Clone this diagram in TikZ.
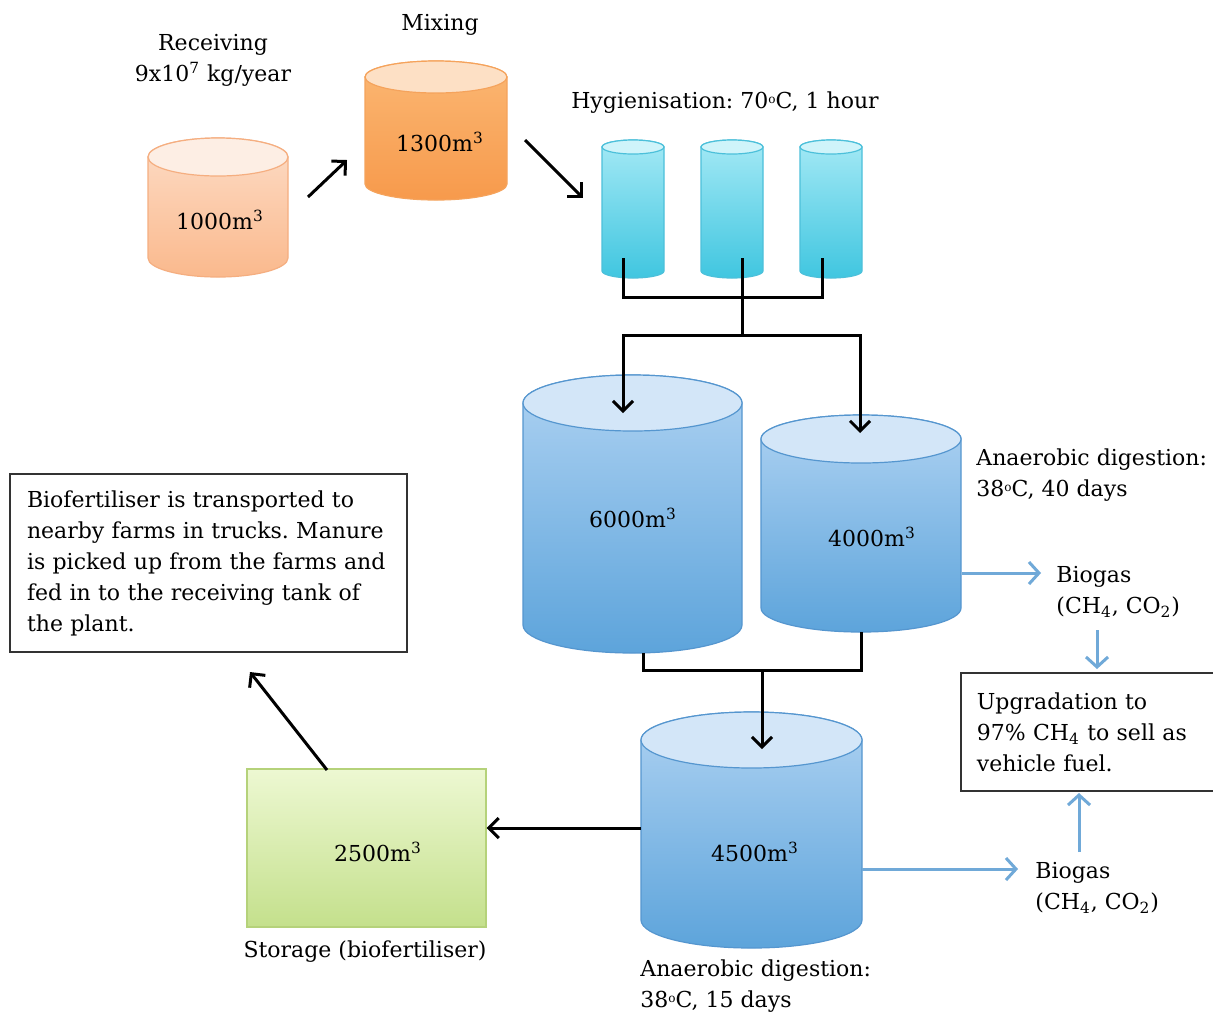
\documentclass[tikz,border=0pt]{standalone}
\usepackage{fontspec}
\setmainfont{DejaVu Serif}
\usetikzlibrary{arrows.meta}
\frenchspacing
\definecolor{recvL}{HTML}{FDEEE4}
\definecolor{recvT}{HTML}{FDDCC6}
\definecolor{recvB}{HTML}{FAB98D}
\definecolor{recvE}{HTML}{F5AE80}
\definecolor{mixL}{HTML}{FDE0C5}
\definecolor{mixT}{HTML}{FBB773}
\definecolor{mixB}{HTML}{F79A4C}
\definecolor{mixE}{HTML}{F5A35C}
\definecolor{hygL}{HTML}{CFF4FA}
\definecolor{hygT}{HTML}{A4E9F5}
\definecolor{hygB}{HTML}{40C6E0}
\definecolor{hygE}{HTML}{4CC0DA}
\definecolor{blueL}{HTML}{D3E6F8}
\definecolor{blueT}{HTML}{AED2F2}
\definecolor{blueB}{HTML}{5DA4DB}
\definecolor{blueE}{HTML}{5596CF}
\definecolor{grT}{HTML}{EDF8D2}
\definecolor{grB}{HTML}{C4E08C}
\definecolor{grE}{HTML}{B5D27A}
\definecolor{gasblue}{HTML}{70A9D8}
\newcommand\drawtank[6]{%
  \path[#6body] ({#1-#4},#2) -- ({#1-#4},#3)
    arc[start angle=180,end angle=360,x radius={#4*0.5pt},y radius={#5*0.5pt}]
    -- ({#1+#4},#2)
    arc[start angle=0,end angle=180,x radius={#4*0.5pt},y radius={#5*0.5pt}] -- cycle;
  \path[#6lid] (#1,#2) ellipse[x radius={#4*0.5pt},y radius={#5*0.5pt}];
}
\newcommand\degsign{\raisebox{0.45ex}{\fontsize{6}{6}\selectfont o}}
\begin{document}
\begin{tikzpicture}[x=0.5pt,y=-0.5pt,
  every node/.style={font=\fontsize{11}{15.5}\selectfont, inner sep=0pt},
  recvbody/.style={top color=recvT, bottom color=recvB, draw=recvE, line width=0.6pt},
  recvlid/.style={fill=recvL, draw=recvE, line width=0.6pt},
  mixbody/.style={top color=mixT, bottom color=mixB, draw=mixE, line width=0.6pt},
  mixlid/.style={fill=mixL, draw=mixE, line width=0.6pt},
  hygbody/.style={top color=hygT, bottom color=hygB, draw=hygE, line width=0.6pt},
  hyglid/.style={fill=hygL, draw=hygE, line width=0.6pt},
  bluebody/.style={top color=blueT, bottom color=blueB, draw=blueE, line width=0.6pt},
  bluelid/.style={fill=blueL, draw=blueE, line width=0.6pt},
  pipe/.style={line width=1.5pt, black},
  flow/.style={line width=1.5pt, black, -{Straight Barb[length=5pt,width=10pt,line width=1.5pt]}},
  gas/.style={line width=1.5pt, gasblue, -{Straight Barb[length=5pt,width=11pt,line width=1.5pt]}},
  infobox/.style={draw=black!80, line width=0.9pt, fill=white, align=left}
]
\fill[white] (0,0) rectangle (1213,1014);
\useasboundingbox (0,0) rectangle (1213,1014);

% tanks
\drawtank{218}{157}{258}{70}{19}{recv}
\drawtank{436}{77}{184}{71}{16}{mix}
\drawtank{633}{147}{271}{31}{7}{hyg}
\drawtank{732}{147}{271}{31}{7}{hyg}
\drawtank{831}{147}{271}{31}{7}{hyg}
\drawtank{632.5}{403}{625}{109.5}{28}{blue}
\drawtank{861}{439}{608}{100}{24}{blue}
\drawtank{751.5}{740}{920}{110.5}{28}{blue}

% tank labels
\node (recv) at (220,220) {1000m\textsuperscript{3}};
\node (mix) at (440,142) {1300m\textsuperscript{3}};
\node (t6) at (633,518) {6000m\textsuperscript{3}};
\node (t4) at (872,537) {4000m\textsuperscript{3}};
\node (t45) at (755,852) {4500m\textsuperscript{3}};

% storage
\node[draw=grE, line width=0.6pt, top color=grT, bottom color=grB,
      minimum width=119.5pt, minimum height=79pt] (storage) at (366.5,848) {};
\node (storagetxt) at (378,852) {2500m\textsuperscript{3}};

% captions
\node[align=center] (recvlabel) at (213,60) {Receiving\\9x10\textsuperscript{7} kg/year};
\node (mixlabel) at (440,25) {Mixing};
\node (hyglabel) at (725,103) {Hygienisation: 70\degsign C, 1 hour};
\node[anchor=west, align=left] (ad1) at (976,475) {Anaerobic digestion:\\38\degsign C, 40 days};
\node[anchor=west, align=left] (ad2) at (640,986) {Anaerobic digestion:\\38\degsign C, 15 days};
\node (storlabel) at (365,952) {Storage (biofertiliser)};
\node[anchor=west, align=left] (gas1) at (1056,592) {Biogas\\(CH\textsubscript{4}, CO\textsubscript{2})};
\node[anchor=west, align=left] (gas2) at (1035,888) {Biogas\\(CH\textsubscript{4}, CO\textsubscript{2})};

% boxes
\node[infobox, minimum width=198.5pt, minimum height=89pt, text width=181.5pt, inner xsep=8.5pt] (bio) at (208.5,563)
 {Biofertiliser is transported to\\nearby farms in trucks. Manure\\is picked up from the farms and\\fed in to the receiving tank of\\the plant.};
\node[infobox, minimum width=129pt, minimum height=59pt, text width=121pt, inner xsep=8pt, anchor=north west] (upg) at (960,672)
 {Upgradation to\\97\% CH\textsubscript{4} to sell as\\vehicle fuel.};

% coordinates
\coordinate (recvout) at (308,197);
\coordinate (mixin) at (347,160);
\coordinate (mixout) at (525,140);
\coordinate (hygin) at (583,198);
\coordinate (h1out) at (623,258);
\coordinate (h2out) at (742,258);
\coordinate (h3out) at (822,258);
\coordinate (split) at (742,335);
\coordinate (t6in) at (623,413);
\coordinate (t4in) at (860,433);
\coordinate (t6out) at (643,653);
\coordinate (t4out) at (861,632);
\coordinate (join) at (762,670);
\coordinate (t45in) at (762,749);
\coordinate (t45left) at (641,828);
\coordinate (sttop) at (327,770);
\coordinate (bioin) at (250,672);
\coordinate (t4right) at (962,573);
\coordinate (gas1in) at (1041,573);
\coordinate (gas1out) at (1097,630);
\coordinate (upgin) at (1097,669);
\coordinate (gas2out) at (1079,852);
\coordinate (upgin2) at (1079,793);
\coordinate (t45right) at (862,869);
\coordinate (gas2in) at (1018,869);

% black flow
\draw[flow] (recvout) -- (mixin);
\draw[flow] (mixout) -- (hygin);
\draw[pipe] (h1out) -- ++(0,39) -| (h3out);
\draw[pipe] (h2out) -- (split);
\draw[flow] (split) -| (t6in);
\draw[flow] (split) -| (t4in);
\draw[pipe] (t6out) -- ++(0,17) -| (t4out);
\draw[flow] (join) -- (t45in);
\draw[flow] (t45left) -- (t45left -| storage.east);
\draw[flow] (sttop) -- (bioin);

% biogas flow
\draw[gas] (t4right) -- (gas1in);
\draw[gas] (gas1out) -- (upgin);
\draw[gas] (gas2out) -- (upgin2);
\draw[gas] (t45right) -- (gas2in);
\end{tikzpicture}
\end{document}
